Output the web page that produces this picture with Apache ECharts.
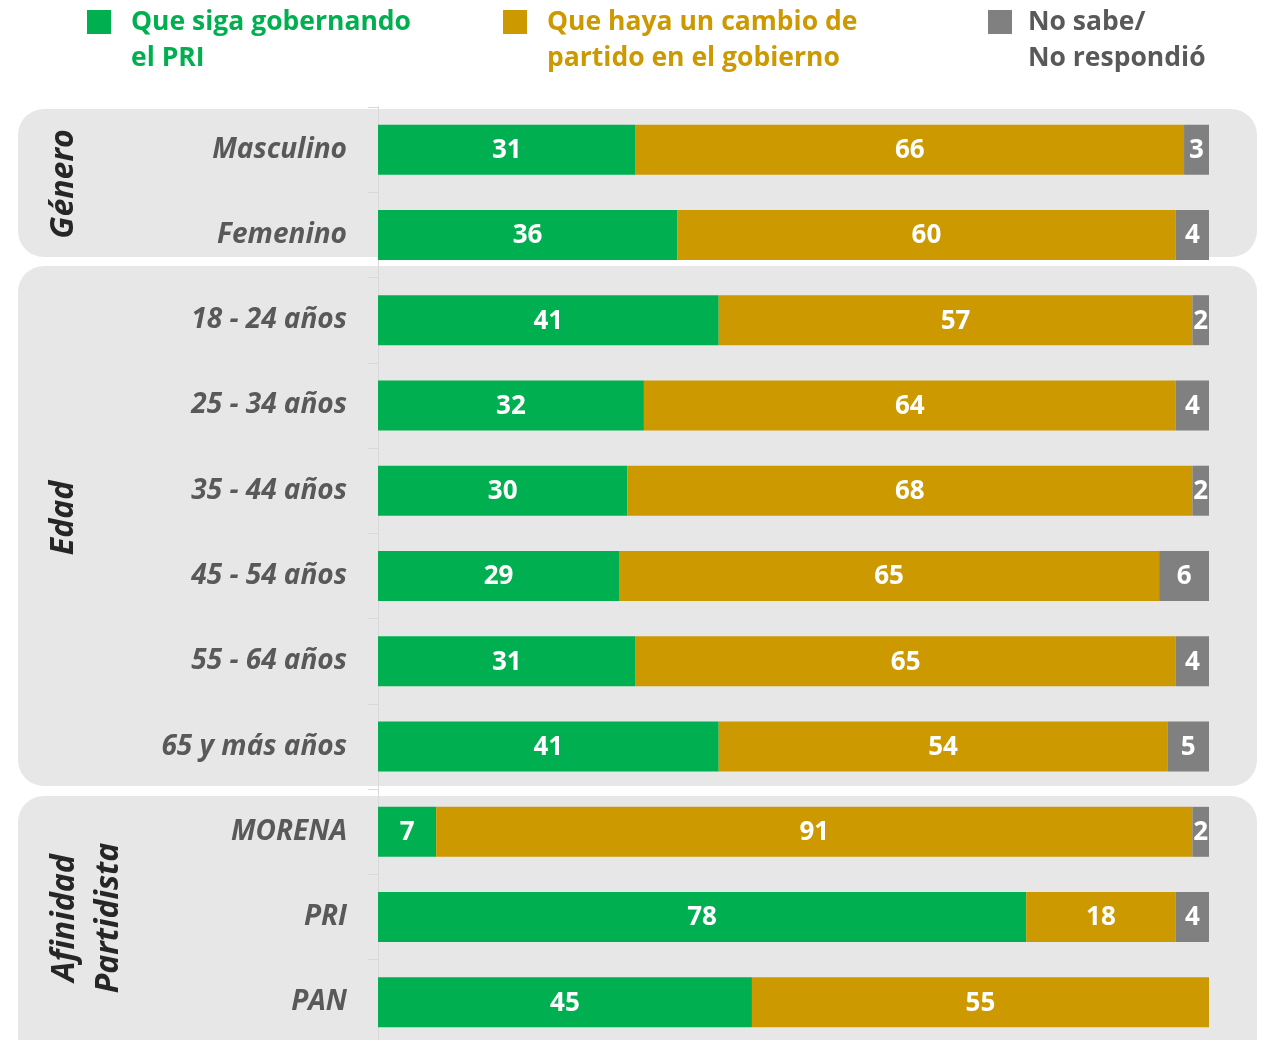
<!DOCTYPE html>
<html>
<head>
<meta charset="utf-8">
<title>Gobierno PRI</title>
<script src="https://cdn.jsdelivr.net/npm/echarts@6/dist/echarts.min.js"></script>
<style>
  html, body { margin: 0; padding: 0; background: #fff; overflow: hidden; }
  /* un poco mas alto que la ventana: la ultima fila queda cortada como en el original */
  #chart { width: 1263px; height: 1064px; }
</style>
</head>
<body>
<div id="chart"></div>
<script>
const categories = ['Masculino', 'Femenino', '18 - 24 años', '25 - 34 años', '35 - 44 años', '45 - 54 años', '55 - 64 años', '65 y más años', 'MORENA', 'PRI', 'PAN']
const sigaPRI = [31, 36, 41, 32, 30, 29, 31, 41, 7, 78, 45]
const cambioPartido = [66, 60, 57, 64, 68, 65, 65, 54, 91, 18, 55]
const noSabe = [3, 4, 2, 4, 2, 6, 4, 5, 2, 4, 0]
const seriesNames = ['Que siga gobernando\nel PRI', 'Que haya un cambio de\npartido en el gobierno', 'No sabe/\nNo respondió']

const FONT = '"Open Sans", Lato, sans-serif'
const green = '#00B050'
const gold = '#CC9900'
const gray = '#808080'

const chart = echarts.init(document.getElementById('chart'))

// legenda: una por serie, con el cuadro alineado a la primera linea
const makeLegend = (name, left, textColor, gap) => ({
  data: [name],
  left: left,
  top: -32,
  padding: 0,
  itemWidth: 24,
  itemHeight: 24,
  icon: 'rect',
  selectedMode: false,
  formatter: n => '\n' + n,
  textStyle: {
    color: textColor,
    fontFamily: FONT,
    fontWeight: 'bold',
    fontSize: 26.5,
    lineHeight: 36,
    padding: [0, 0, 0, gap]
  }
})

const barLabel = {
  show: true,
  position: 'inside',
  offset: [0, 1],
  color: '#fff',
  fontFamily: FONT,
  fontWeight: 'bold',
  fontSize: 26,
  formatter: p => (p.value ? p.value : '')
}

const panel = (y, h) => ({
  type: 'rect',
  z: -10,
  shape: { x: 18, y: y, width: 1239, height: h, r: 26 },
  style: { fill: '#e7e7e7' }
})

const groupTitle = (text, x, y) => ({
  type: 'text',
  z: -5,
  x: x,
  y: y,
  rotation: Math.PI / 2,
  style: {
    text: text,
    fill: '#262626',
    font: 'italic bold 32px ' + FONT,
    align: 'center',
    verticalAlign: 'middle',
    lineHeight: 44
  }
})

const option = {
  backgroundColor: '#fff',
  animation: false,
  legend: [
    makeLegend(seriesNames[0], 87, green, 15),
    makeLegend(seriesNames[1], 503, gold, 15),
    makeLegend(seriesNames[2], 988, '#595959', 11)
  ],
  graphic: {
    elements: [
      panel(109, 148),
      panel(266, 520),
      panel(796, 290),
      groupTitle('Género', 64, 184),
      groupTitle('Edad', 64, 518),
      groupTitle('Afinidad\nPartidista', 87, 918)
    ]
  },
  grid: {
    left: 378,
    top: 107,
    width: 831,
    height: 938
  },
  xAxis: {
    type: 'value',
    min: 0,
    max: 100,
    show: false
  },
  yAxis: {
    type: 'category',
    inverse: true,
    data: categories,
    axisLine: { lineStyle: { color: '#d9d9d9', width: 1 } },
    axisTick: { show: true, length: 10, lineStyle: { color: '#d9d9d9' } },
    axisLabel: {
      margin: 31,
      color: '#595959',
      fontFamily: FONT,
      fontStyle: 'italic',
      fontWeight: 'bold',
      fontSize: 28
    }
  },
  series: [
    {
      name: seriesNames[0],
      type: 'bar',
      stack: 'total',
      barWidth: 50,
      data: sigaPRI,
      itemStyle: { color: green },
      label: barLabel
    },
    {
      name: seriesNames[1],
      type: 'bar',
      stack: 'total',
      barWidth: 50,
      data: cambioPartido,
      itemStyle: { color: gold },
      label: barLabel
    },
    {
      name: seriesNames[2],
      type: 'bar',
      stack: 'total',
      barWidth: 50,
      data: noSabe,
      itemStyle: { color: gray },
      label: barLabel
    }
  ]
}

chart.setOption(option)
</script>
</body>
</html>
